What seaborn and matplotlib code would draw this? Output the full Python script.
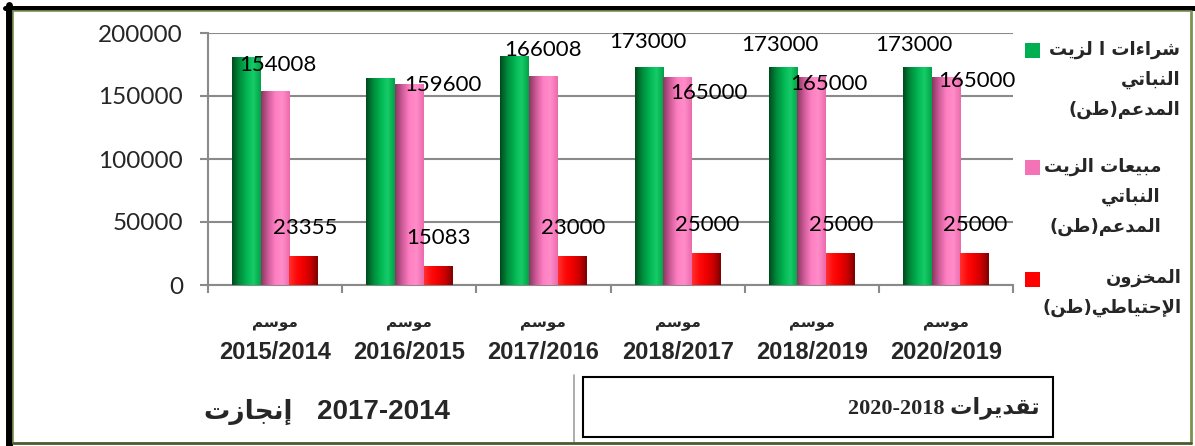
import numpy as np
import pandas as pd
import seaborn as sns
import matplotlib.pyplot as plt
from matplotlib.colors import LinearSegmentedColormap
from matplotlib.patches import Rectangle
from matplotlib.lines import Line2D

# --- data -------------------------------------------------------------
seasons = ['2015/2014', '2016/2015', '2017/2016', '2018/2017', '2018/2019', '2020/2019']
season_word = 'موسم'
purchases = [181000, 164000, 182000, 173000, 173000, 173000]
sales = [154008, 159600, 166008, 165000, 165000, 165000]
reserve = [23355, 15083, 23000, 25000, 25000, 25000]
purchases_labelled = [False, False, False, True, True, True]

series_names = ['شراءات ا لزيت النباتي المدعم(طن)',
                'مبيعات الزيت النباتي المدعم(طن)',
                'المخزون الإحتياطي(طن)']
legend_lines = [['شراءات ا لزيت', 'النباتي', 'المدعم(طن)'],
                ['مبيعات الزيت', 'النباتي', 'المدعم(طن)'],
                ['المخزون', 'الإحتياطي(طن)']]
estimate_word = 'تقديرات'
estimate_years = '2020-2018'
actual_word = 'إنجازت'
actual_years = '2017-2014'

yticks = [0, 50000, 100000, 150000, 200000]

# --- tiny arabic shaper (matplotlib has no contextual shaping) --------
FORMS = {'ء': (0xFE80, 1), 'آ': (0xFE81, 2), 'أ': (0xFE83, 2), 'ؤ': (0xFE85, 2),
         'إ': (0xFE87, 2), 'ئ': (0xFE89, 4), 'ا': (0xFE8D, 2), 'ب': (0xFE8F, 4),
         'ة': (0xFE93, 2), 'ت': (0xFE95, 4), 'ث': (0xFE99, 4), 'ج': (0xFE9D, 4),
         'ح': (0xFEA1, 4), 'خ': (0xFEA5, 4), 'د': (0xFEA9, 2), 'ذ': (0xFEAB, 2),
         'ر': (0xFEAD, 2), 'ز': (0xFEAF, 2), 'س': (0xFEB1, 4), 'ش': (0xFEB5, 4),
         'ص': (0xFEB9, 4), 'ض': (0xFEBD, 4), 'ط': (0xFEC1, 4), 'ظ': (0xFEC5, 4),
         'ع': (0xFEC9, 4), 'غ': (0xFECD, 4), 'ف': (0xFED1, 4), 'ق': (0xFED5, 4),
         'ك': (0xFED9, 4), 'ل': (0xFEDD, 4), 'م': (0xFEE1, 4), 'ن': (0xFEE5, 4),
         'ه': (0xFEE9, 4), 'و': (0xFEED, 2), 'ى': (0xFEEF, 2), 'ي': (0xFEF1, 4)}
LAM_ALEF = {'آ': 0xFEF5, 'أ': 0xFEF7, 'إ': 0xFEF9, 'ا': 0xFEFB}
MIRROR = {'(': ')', ')': '('}


def rtl(text):
    tokens = []
    i = 0
    while i < len(text):
        c = text[i]
        if c == 'ل' and i + 1 < len(text) and text[i + 1] in LAM_ALEF:
            tokens.append((LAM_ALEF[text[i + 1]], 2))
            i += 2
        elif c in FORMS:
            tokens.append(FORMS[c])
            i += 1
        else:
            tokens.append((MIRROR.get(c, c), 0))
            i += 1
    out = []
    for k, (start, n) in enumerate(tokens):
        if n == 0:
            out.append(start)
            continue
        prev_n = tokens[k - 1][1] if k > 0 else 0
        next_n = tokens[k + 1][1] if k + 1 < len(tokens) else 0
        jp = prev_n == 4 and n >= 2
        jn = n == 4 and next_n >= 2
        form = 3 if (jp and jn) else 1 if jp else 2 if jn else 0
        out.append(chr(start + form))
    return ''.join(out[::-1])


# --- figure -----------------------------------------------------------
W, H = 1195, 446


def fx(x):
    return x / W


def fy(y):
    return 1 - y / H


sns.set_style('white')
plt.rcParams['font.family'] = ['DejaVu Sans']

df = pd.DataFrame({
    'season': seasons * 3,
    'series': [series_names[0]] * 6 + [series_names[1]] * 6 + [series_names[2]] * 6,
    'value': purchases + sales + reserve,
})

fig = plt.figure(figsize=(W / 100, H / 100), dpi=100)
ax = fig.add_axes([fx(208), fy(285), fx(1013) - fx(208), fy(33) - fy(285)])

base_colors = ['#00b050', '#f472b6', '#ff0000']
sns.barplot(data=df, x='season', y='value', hue='series', hue_order=series_names,
            palette=base_colors, width=0.64, gap=0, ax=ax, legend=False,
            edgecolor='none', linewidth=0, zorder=3)

# cylinder-like shading
shades = [
    ['#004c1e', '#008a3c', '#00b552', '#16cc68', '#00a246'],
    ['#8a3763', '#cf5c99', '#ff80c3', '#ff8cc9', '#ec6aad'],
    ['#ff3030', '#ff0a0a', '#f00000', '#c80000', '#7e0000'],
]
grad = np.linspace(0, 1, 64).reshape(1, -1)
for cont, stops in zip(ax.containers, shades):
    cmap = LinearSegmentedColormap.from_list('shade', stops)
    for bar in cont:
        x0, w, h = bar.get_x(), bar.get_width(), bar.get_height()
        im = ax.imshow(grad, cmap=cmap, extent=(x0, x0 + w, 0, h),
                       aspect='auto', zorder=4, interpolation='bilinear')
        im.set_clip_path(bar)

ax.set_xlim(-0.5, len(seasons) - 0.5)
ax.set_ylim(0, 200000)

# data labels (pixel offsets from the top of each bar)
green_off = [(0, 0), (0, 0), (0, 0), (-1, 25), (-3, 22), (-3, 22)]
pink_off = [(3, 26), (34, -1), (0, 26), (31, -16), (17, -7), (31, -4)]
red_off = (1, 28)
lab_kw = dict(textcoords='offset pixels', ha='center', va='center',
              fontsize=16, family='Lato', color='black', zorder=6)
for i, bar in enumerate(ax.containers[0]):
    if purchases_labelled[i]:
        ax.annotate(f'{purchases[i]}', (bar.get_x() + bar.get_width() / 2, bar.get_height()),
                    xytext=green_off[i], **lab_kw)
for i, bar in enumerate(ax.containers[1]):
    ax.annotate(f'{sales[i]}', (bar.get_x() + bar.get_width() / 2, bar.get_height()),
                xytext=pink_off[i], **lab_kw)
for i, bar in enumerate(ax.containers[2]):
    ax.annotate(f'{reserve[i]}', (bar.get_x() + bar.get_width() / 2, bar.get_height()),
                xytext=red_off, **lab_kw)

# axes styling
grid_c = '#8a8a8a'
ax.set_yticks(yticks)
ax.set_yticklabels([str(v) for v in yticks], fontsize=17.5, family='Lato')
ax.yaxis.grid(True, color=grid_c, linewidth=1.5, zorder=0)
ax.xaxis.grid(False)
for side in ['top', 'right']:
    ax.spines[side].set_visible(False)
ax.spines['left'].set_color(grid_c)
ax.spines['left'].set_linewidth(1.5)
ax.spines['bottom'].set_color(grid_c)
ax.spines['bottom'].set_linewidth(1.5)
ax.tick_params(axis='y', length=6, width=1.5, color=grid_c, pad=12, left=True)
ax.set_xticks(range(len(seasons)))
ax.set_xticks(np.arange(len(seasons) + 1) - 0.5, minor=True)
ax.set_xticklabels(seasons, fontsize=17, fontweight='bold',
                   family=['Liberation Sans', 'DejaVu Sans'])
ax.tick_params(axis='x', which='major', length=0, pad=40)
ax.tick_params(axis='x', which='minor', length=6, width=1.5, color=grid_c, bottom=True)
ax.set_xlabel('')
ax.set_ylabel('')
for i in range(len(seasons)):
    ax.text(i, -0.151, rtl(season_word), transform=ax.get_xaxis_transform(),
            ha='center', va='center', fontsize=11, fontweight='bold')

# legend (square aligned with first line, lines right aligned)
leg_sq = [(1025, 43), (1025, 160), (1025, 272)]
leg_y0 = [50, 167, 278]
leg_right = [1180, 1161, 1182]
for lines, (sx, sy), y0, xr, col in zip(legend_lines, leg_sq, leg_y0, leg_right, base_colors):
    fig.add_artist(Rectangle((fx(sx), fy(sy + 15)), 15 / W, 15 / H,
                             transform=fig.transFigure, color=col, lw=0))
    for j, line in enumerate(lines):
        fig.text(fx(xr), fy(y0 + 30 * j), rtl(line), ha='right', va='center',
                 fontsize=13, fontweight='bold')

# bottom notes
fig.add_artist(Line2D([fx(574), fx(574)], [fy(375), fy(442)], color='#a0a0a0', lw=1.2))
fig.add_artist(Rectangle((fx(583), fy(437)), (1053 - 583) / W, 60 / H,
                         transform=fig.transFigure, fill=False, edgecolor='black', lw=1.5))
fig.text(fx(1040), fy(408), estimate_years + ' ' + rtl(estimate_word), ha='right', va='center',
         fontsize=16, fontweight='bold', family=['Liberation Serif', 'DejaVu Sans'])
fig.text(fx(293), fy(412), rtl(actual_word), ha='right', va='center',
         fontsize=19, fontweight='bold')
fig.text(fx(317), fy(412), actual_years, ha='left', va='center',
         fontsize=20, fontweight='bold', family=['Liberation Sans', 'DejaVu Sans'])

# frame
fig.add_artist(Line2D([fx(5), fx(1195)], [fy(7.5), fy(7.5)], color='black', lw=3.6))
fig.add_artist(Line2D([fx(8.5), fx(8.5)], [fy(5), fy(446)], color='black', lw=5))
olive = '#7a9450'
fig.add_artist(Line2D([fx(13), fx(1190)], [fy(11), fy(11)], color=olive, lw=1.2))
fig.add_artist(Line2D([fx(13), fx(13)], [fy(11), fy(443)], color=olive, lw=1.2))
fig.add_artist(Line2D([fx(1191), fx(1191)], [fy(11), fy(443)], color=olive, lw=2))
fig.add_artist(Line2D([fx(13), fx(1191)], [fy(443), fy(443)], color='#4a5a30', lw=2))

plt.savefig('out.png', dpi=100)
